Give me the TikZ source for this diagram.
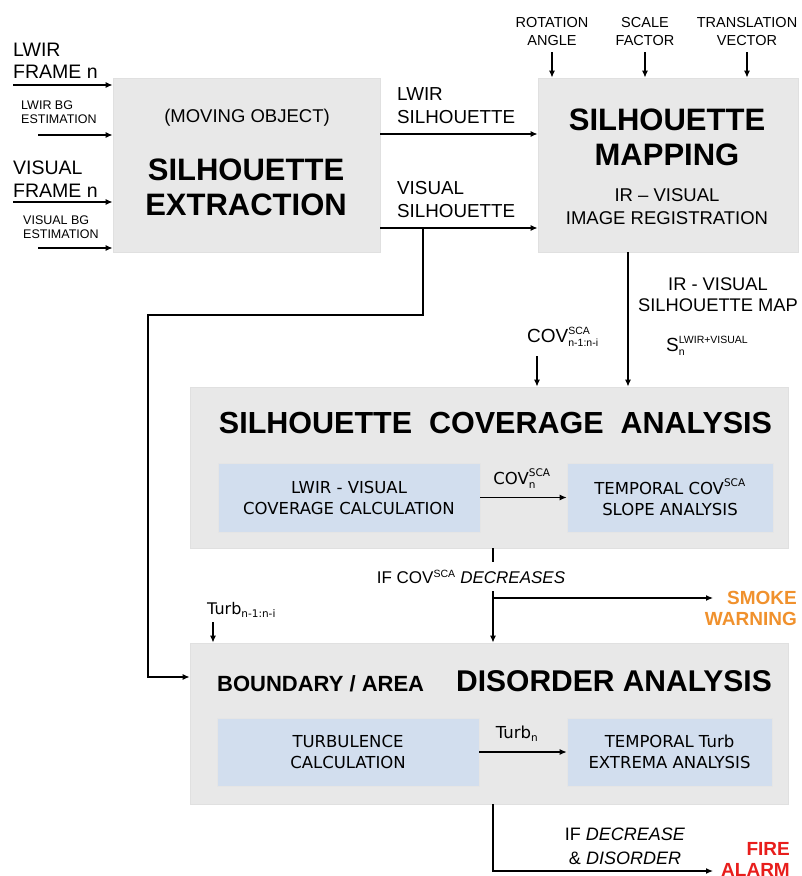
\documentclass[tikz,border=0pt]{standalone}
\usepackage{fontspec}
\usepackage{amsmath}
\setmainfont{Liberation Sans}
\newfontfamily\innerfont{DejaVu Sans}
\usetikzlibrary{arrows.meta,positioning}

\definecolor{boxgray}{RGB}{232,232,232}
\definecolor{boxblue}{RGB}{210,222,238}
\definecolor{smokeorange}{RGB}{240,145,45}
\definecolor{firered}{RGB}{232,30,28}

\newcommand{\fs}[2]{\fontsize{#1}{#2}\selectfont}
\newcommand{\idx}[1]{\text{\fontsize{10.5}{11}\selectfont #1}}

\tikzset{
  block/.style={fill=boxgray, draw=black!12, line width=0.8pt, inner sep=0pt},
  subblock/.style={fill=boxblue, draw=black!10, line width=0.6pt, inner sep=0pt,
                   align=center, font=\innerfont\fs{16.5}{21}},
  note/.style={inner sep=0pt, align=center},
  flow/.style={-{Latex[length=7pt,width=6pt]}, line width=1.2pt},
  wire/.style={line width=1.2pt}
}

\begin{document}
\begin{tikzpicture}[x=1pt,y=-1pt]
\useasboundingbox (0,0) rectangle (801,876);

% BLOCKS
\node[block, minimum width=267pt, minimum height=174pt] (extract) at (246.5,165) {};
\node[block, minimum width=260pt, minimum height=174pt] (mapping) at (668,165) {};
\node[block, minimum width=598pt, minimum height=161pt] (coverage) at (489,467.5) {};
\node[block, minimum width=598pt, minimum height=161pt] (disorder) at (489,723.5) {};

\node[subblock, minimum width=262pt, minimum height=69pt] (covcalc) at (349,497.5)
  {LWIR - VISUAL\\COVERAGE CALCULATION};
\node[subblock, minimum width=206pt, minimum height=69pt] (covslope) at (670,497.5)
  {TEMPORAL $\text{COV}^{\idx{SCA}}$\\SLOPE ANALYSIS};
\node[subblock, minimum width=262pt, minimum height=68pt] (turbcalc) at (348,752)
  {TURBULENCE\\CALCULATION};
\node[subblock, minimum width=205pt, minimum height=68pt] (turbextr) at (669.5,752)
  {TEMPORAL Turb\\EXTREMA ANALYSIS};

% TITLES
\node[note, font=\fs{18.5}{22}] (moving) at (247,118) {(MOVING OBJECT)};
\node[note, font=\bfseries\fs{31}{35}] (extracttitle) at (246,187.5) {SILHOUETTE\\EXTRACTION};
\node[note, font=\bfseries\fs{31}{35}] (maptitle) at (667,137.5) {SILHOUETTE\\MAPPING};
\node[note, font=\fs{18.5}{23}] (mapsub) at (667,206.5) {IR -- VISUAL\\IMAGE REGISTRATION};
\node[note, font=\bfseries\fs{30.5}{32}] (covtitle) at (495.5,423)
  {SILHOUETTE\ \ COVERAGE\ \ ANALYSIS};
\node[note, font=\bfseries\fs{22}{24}, anchor=base west] (distitle) at (217,691)
  {BOUNDARY / AREA};
\node[note, font=\bfseries\fs{30}{32}, anchor=base east] (distitle2) at (772,691)
  {DISORDER ANALYSIS};

% INPUTS
\node[note, align=left, anchor=west, font=\fs{19.5}{22}] (lwirframe) at (13,61) {LWIR\\FRAME n};
\node[note, align=left, anchor=west, font=\fs{12.5}{14}] (lwirbg) at (21,112.5) {LWIR BG\\ESTIMATION};
\node[note, align=left, anchor=west, font=\fs{19.5}{23}] (visframe) at (13,179) {VISUAL\\FRAME n};
\node[note, align=left, anchor=west, font=\fs{12.5}{14}] (visbg) at (23,227.5) {VISUAL BG\\ESTIMATION};

\coordinate (in1) at (13,85);
\coordinate (in2) at (38,135);
\coordinate (in3) at (13,202);
\coordinate (in4) at (38,248);
\draw[flow] (in1) -- (in1 -| extract.west);
\draw[flow] (in2) -- (in2 -| extract.west);
\draw[flow] (in3) -- (in3 -| extract.west);
\draw[flow] (in4) -- (in4 -| extract.west);

\node[note, font=\fs{14.5}{18}] (rot) at (552,32) {ROTATION\\ANGLE};
\node[note, font=\fs{14.5}{18}] (scl) at (645,32) {SCALE\\FACTOR};
\node[note, font=\fs{14.5}{18}] (trn) at (747,32) {TRANSLATION\\VECTOR};
\draw[flow] ([yshift=-6pt]rot.south) -- (rot.south |- mapping.north);
\draw[flow] ([yshift=-6pt]scl.south) -- (scl.south |- mapping.north);
\draw[flow] ([yshift=-6pt]trn.south) -- (trn.south |- mapping.north);

% ARROWS
\node[note, align=left, anchor=west, font=\fs{18.8}{23}] (lwirsil) at (397,106) {LWIR\\SILHOUETTE};
\node[note, align=left, anchor=west, font=\fs{18.8}{23}] (vissil) at (397,199.5) {VISUAL\\SILHOUETTE};
\coordinate (lwout) at (380,134);
\coordinate (visout) at (380,228);
\draw[flow] (lwout) -- (lwout -| mapping.west);
\draw[flow] (visout) -- (visout -| mapping.west);

\coordinate (vbranch) at (423,228);
\coordinate (bendA) at (423,315);
\coordinate (bendB) at (148,315);
\coordinate (bendC) at (148,677);
\draw[flow] (vbranch) -- (bendA) -- (bendB) -- (bendC) -- (bendC -| disorder.west);

\coordinate (mapdown) at (628,252);
\draw[flow] (mapdown) -- (mapdown |- coverage.north);
\node[note, font=\fs{18.3}{21}] (silmap) at (718,295) {IR - VISUAL\\SILHOUETTE MAP};
\node[note, anchor=west, font=\fs{19}{22}] (smap) at (666,346)
  {$\text{S}^{\idx{LWIR+VISUAL}}_{\idx{n}}$};
\node[note, anchor=west, font=\fs{19}{22}] (covprev) at (527,337)
  {$\text{COV}^{\idx{SCA}}_{\idx{n-1:n-i}}$};
\coordinate (covin) at (537,356);
\draw[flow] (covin) -- (covin |- coverage.north);

\node[note, font=\innerfont\fs{16.5}{21}] (covn) at (522,479) {$\text{COV}^{\idx{SCA}}_{\idx{n}}$};
\draw[flow] (covcalc) -- (covslope);
\node[note, font=\innerfont\fs{16.5}{21}] (turbn) at (517,734) {Turb$_{\idx{n}}$};
\draw[flow] (turbcalc) -- (turbextr);

\coordinate (covtap) at (493,548);
\draw[wire] (covtap) -- ++(0,14);
\node[note, font=\fs{17}{20}] (ifcov) at (471,577) {IF COV$^{\idx{SCA}}$ \textit{DECREASES}};
\coordinate (covtap2) at (493,591);
\draw[flow] (covtap2) -- (covtap2 |- disorder.north);
\coordinate (smokebr) at (493,598);
\coordinate (smokeend) at (713,598);
\draw[flow] (smokebr) -- (smokeend);
\node[note, align=right, anchor=east, font=\bfseries\fs{19}{21}, text=smokeorange] (smoke) at (797,608.5)
  {SMOKE\\WARNING};

\node[note, anchor=west, font=\innerfont\fs{16}{20}] (turbprev) at (207,610) {Turb$_{\idx{n-1:n-i}}$};
\coordinate (turbin) at (213,622);
\draw[flow] (turbin) -- (turbin |- disorder.north);

\coordinate (distap) at (493,804);
\coordinate (fireend) at (713,871);
\draw[flow] (distap) |- (fireend);
\node[note, font=\fs{18}{24}] (ifdec) at (625,846) {IF \textit{DECREASE}\\\& \textit{DISORDER}};
\node[note, align=right, anchor=east, font=\bfseries\fs{19}{21}, text=firered] (fire) at (790,859)
  {FIRE\\ALARM};

\end{tikzpicture}
\end{document}
